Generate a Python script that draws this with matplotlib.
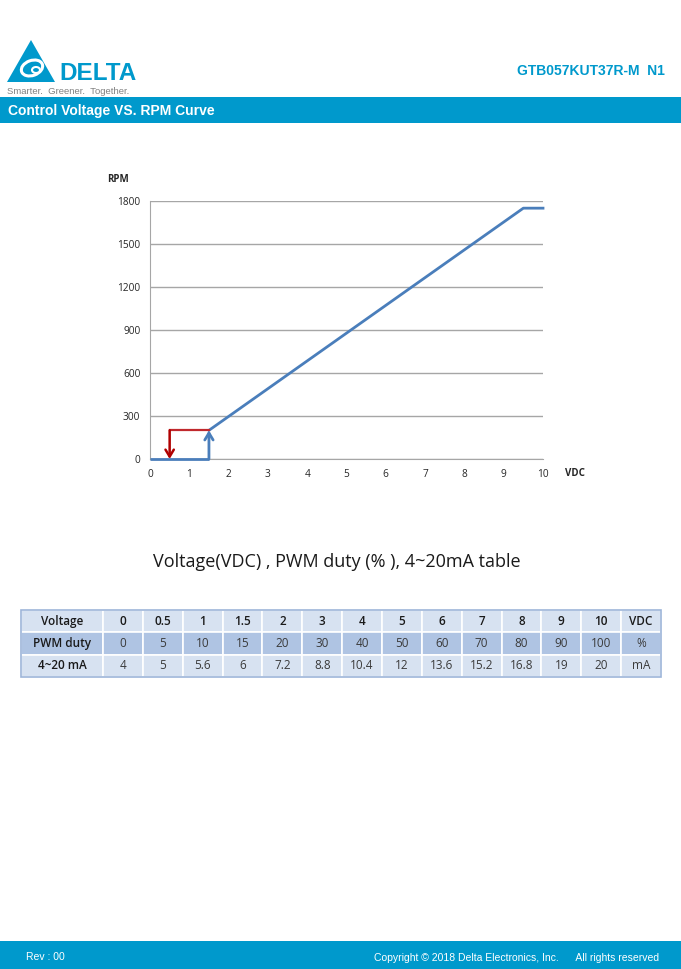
"""
Control Voltage vs RPM curve + tabla Voltage / PWM / 4~20mA (hoja de datos Delta).
"""
import matplotlib
matplotlib.use("Agg")
import matplotlib.pyplot as plt
from matplotlib.patches import Rectangle, Polygon, Ellipse

# Datos de la curva
vdc_curve = [1.5, 9.5, 10]
rpm_curve = [200, 1750, 1750]
vdc_off = [0, 1.5]
rpm_off = [0, 0]
vdc_start, rpm_start = 1.5, 200     # flecha de arranque
vdc_stop, rpm_stop = 0.5, 200       # flecha de parada (histeresis)

x_ticks = list(range(0, 11))
y_ticks = [0, 300, 600, 900, 1200, 1500, 1800]

# Tabla
row_labels = ["Voltage", "PWM duty", "4~20 mA"]
voltage = ["0", "0.5", "1", "1.5", "2", "3", "4", "5", "6", "7", "8", "9", "10"]
pwm_duty = ["0", "5", "10", "15", "20", "30", "40", "50", "60", "70", "80", "90", "100"]
current_ma = ["4", "5", "5.6", "6", "7.2", "8.8", "10.4", "12", "13.6", "15.2", "16.8", "19", "20"]
units = ["VDC", "%", "mA"]

DELTA_BLUE = "#0099CC"
CURVE_BLUE = "#4A7EBB"
STOP_RED = "#C0282D"
GRID = "#A6A6A6"
W, H = 681, 969

fig = plt.figure(figsize=(W / 100, H / 100), dpi=100)
fig.patch.set_facecolor("white")

# Capa de fondo en coordenadas de pixel
bg = fig.add_axes([0, 0, 1, 1])
bg.set_xlim(0, W)
bg.set_ylim(H, 0)
bg.axis("off")

# Logo
bg.add_patch(Polygon([[7, 82], [55, 82], [31, 40]], closed=True,
                     facecolor=DELTA_BLUE, edgecolor="none"))
bg.add_patch(Ellipse((32, 68), 22, 15, angle=-20, facecolor="none",
                     edgecolor="white", linewidth=2.2))
bg.add_patch(Ellipse((36, 70), 8, 6, facecolor=DELTA_BLUE, edgecolor="white",
                     linewidth=1.5))
bg.text(59, 80, "DELTA", fontsize=17.5, fontweight="bold", color=DELTA_BLUE,
        family="Liberation Sans", ha="left", va="baseline")
bg.text(7, 94, "Smarter.  Greener.  Together.", fontsize=6.8, color="#808080",
        family="Liberation Sans", ha="left", va="baseline")
bg.text(665, 75, "GTB057KUT37R-M  N1", fontsize=10, fontweight="bold",
        color=DELTA_BLUE, family="Liberation Sans", ha="right", va="baseline")

# Barra de titulo
bg.add_patch(Rectangle((0, 97), W, 26, facecolor=DELTA_BLUE, edgecolor="none"))
bg.text(8, 111, "Control Voltage VS. RPM Curve", fontsize=10, fontweight="bold",
        color="white", family="Liberation Sans", ha="left", va="center")

# Pie de pagina
bg.add_patch(Rectangle((0, 941), W, 28, facecolor=DELTA_BLUE, edgecolor="none"))
bg.text(26, 957, "Rev : 00", fontsize=7.5, color="white",
        family="Liberation Sans", ha="left", va="center")
bg.text(659, 958, "Copyright \u00a9 2018 Delta Electronics, Inc.      All rights reserved",
        fontsize=7.5, color="white", family="Liberation Sans", ha="right", va="center")

# Grafico
ax = fig.add_axes([150 / W, 1 - 459 / H, 393 / W, 258 / H])
ax.set_xlim(0, 10)
ax.set_ylim(0, 1800)
ax.set_xticks(x_ticks)
ax.set_yticks(y_ticks)
ax.tick_params(length=0, labelsize=7.3, colors="#262626", pad=7)
for lab in ax.get_xticklabels() + ax.get_yticklabels():
    lab.set_family("Open Sans")
ax.yaxis.grid(True, color=GRID, linewidth=1)
ax.set_axisbelow(True)
for s in ["top", "right"]:
    ax.spines[s].set_visible(False)
ax.spines["left"].set_color(GRID)
ax.spines["bottom"].set_color(GRID)

ax.plot(vdc_off, rpm_off, color=CURVE_BLUE, linewidth=2, solid_capstyle="butt",
        clip_on=False, zorder=3)
ax.plot(vdc_curve, rpm_curve, color=CURVE_BLUE, linewidth=2, clip_on=False,
        zorder=3)
ax.annotate("", xy=(vdc_start, rpm_start), xytext=(vdc_start, 0),
            arrowprops=dict(arrowstyle="->,head_length=0.5,head_width=0.3",
                            color=CURVE_BLUE, lw=2, shrinkA=0, shrinkB=0),
            zorder=3)
ax.plot([vdc_start, vdc_stop], [rpm_start, rpm_stop], color=STOP_RED,
        linewidth=1.6, zorder=3)
ax.annotate("", xy=(vdc_stop, 0), xytext=(vdc_stop, rpm_stop),
            arrowprops=dict(arrowstyle="->,head_length=0.5,head_width=0.3",
                            color="#B00000", lw=1.8, shrinkA=0, shrinkB=0),
            zorder=4)

bg.text(118, 179, "RPM", fontsize=7, fontweight="bold", family="Open Sans",
        ha="center", va="center", color="#262626")
bg.text(575, 473, "VDC", fontsize=7, fontweight="bold", family="Open Sans",
        ha="center", va="center", color="#262626")

# Titulo de la tabla
bg.text(337, 562, "Voltage(VDC) , PWM duty (% ), 4~20mA table", fontsize=13,
        family="Open Sans", ha="center", va="center", color="#1a1a1a")

# Tabla
cell_text = [
    [row_labels[0]] + voltage + [units[0]],
    [row_labels[1]] + pwm_duty + [units[1]],
    [row_labels[2]] + current_ma + [units[2]],
]
row_colors = ["#D7E2F1", "#AFC4E3", "#D7E2F1"]
tx0, tx1, ty0, ty1 = 21, 661, 610, 677
first_w = 82
other_w = (tx1 - tx0 - first_w) / (len(voltage) + 1)
col_w = [first_w / (tx1 - tx0)] + [other_w / (tx1 - tx0)] * (len(voltage) + 1)
tbl = bg.table(cellText=cell_text, colWidths=col_w, cellLoc="center",
               bbox=[tx0 / W, 1 - ty1 / H, (tx1 - tx0) / W, (ty1 - ty0) / H])
tbl.auto_set_font_size(False)
for (r, c), cell in tbl.get_celld().items():
    cell.set_facecolor(row_colors[r])
    cell.set_edgecolor("white")
    cell.set_linewidth(1.2)
    txt = cell.get_text()
    txt.set_fontsize(8.5)
    txt.set_family("Open Sans")
    if r == 0 or c == 0:
        txt.set_fontweight("semibold")
        txt.set_color("#1a1a1a")
    else:
        txt.set_color("#3a3a3a")
bg.add_patch(Rectangle((tx0, ty0), tx1 - tx0, ty1 - ty0, facecolor="none",
                       edgecolor="#9DB5D9", linewidth=1.2, zorder=5))

fig.savefig("out.png", dpi=100, facecolor="white")
